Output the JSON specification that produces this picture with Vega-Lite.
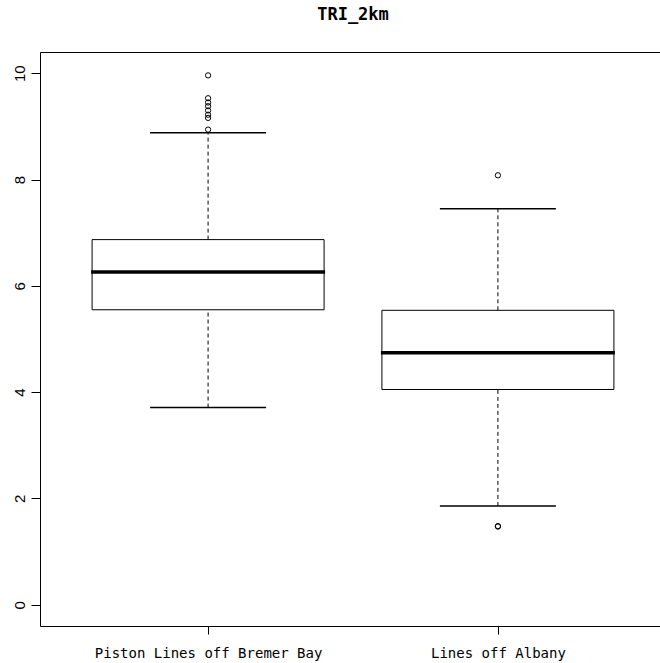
{
  "$schema": "https://vega.github.io/schema/vega-lite/v6.json",
  "autosize": {"type": "none"},
  "padding": {"left": 40, "top": 52, "right": 0, "bottom": 37},
  "width": 626,
  "height": 574,
  "background": "white",
  "title": {
    "text": "TRI_2km",
    "font": "DejaVu Sans Mono",
    "fontSize": 17,
    "fontWeight": "bold",
    "color": "black",
    "anchor": "middle",
    "baseline": "alphabetic",
    "offset": 15
  },
  "config": {
    "view": {"stroke": "black", "strokeWidth": 1},
    "axis": {"grid": false, "domain": false, "tickColor": "black", "labelColor": "black", "titleColor": "black"}
  },
  "datasets": {
    "boxes": [
      {"site": "Piston Lines off Bremer Bay", "lower": 3.71, "q1": 5.55, "median": 6.26, "q3": 6.87, "upper": 8.88},
      {"site": "Lines off Albany", "lower": 1.86, "q1": 4.05, "median": 4.74, "q3": 5.54, "upper": 7.45}
    ],
    "outliers": [
      {"site": "Piston Lines off Bremer Bay", "value": 9.96},
      {"site": "Piston Lines off Bremer Bay", "value": 9.53},
      {"site": "Piston Lines off Bremer Bay", "value": 9.45},
      {"site": "Piston Lines off Bremer Bay", "value": 9.38},
      {"site": "Piston Lines off Bremer Bay", "value": 9.30},
      {"site": "Piston Lines off Bremer Bay", "value": 9.22},
      {"site": "Piston Lines off Bremer Bay", "value": 9.16},
      {"site": "Piston Lines off Bremer Bay", "value": 8.94},
      {"site": "Lines off Albany", "value": 8.08},
      {"site": "Lines off Albany", "value": 1.48},
      {"site": "Lines off Albany", "value": 1.47}
    ]
  },
  "encoding": {
    "x": {
      "field": "site",
      "type": "nominal",
      "sort": ["Piston Lines off Bremer Bay", "Lines off Albany"],
      "scale": {"type": "point", "padding": 0.58},
      "axis": {
        "title": null,
        "labelAngle": 0,
        "labelFont": "DejaVu Sans Mono",
        "labelFontSize": 14,
        "labelLimit": 0,
        "tickSize": 8,
        "labelPadding": 12,
        "labelBaseline": "top"
      }
    }
  },
  "layer": [
    {
      "data": {"name": "boxes"},
      "mark": {"type": "rule", "color": "black", "strokeWidth": 1, "strokeDash": [4, 3]},
      "encoding": {
        "y": {
          "field": "q3",
          "type": "quantitative",
          "scale": {"domain": [-0.4, 10.4], "nice": false, "zero": false},
          "axis": {
            "title": null,
            "values": [0, 2, 4, 6, 8, 10],
            "labelAngle": -90,
            "labelFont": "Liberation Sans",
            "labelFontSize": 15,
            "tickSize": 9,
            "labelPadding": 4
          }
        },
        "y2": {"field": "upper"}
      }
    },
    {
      "data": {"name": "boxes"},
      "mark": {"type": "rule", "color": "black", "strokeWidth": 1, "strokeDash": [4, 3]},
      "encoding": {
        "y": {"field": "lower", "type": "quantitative"},
        "y2": {"field": "q1"}
      }
    },
    {
      "data": {"name": "boxes"},
      "mark": {"type": "bar", "size": 232, "fill": "white", "stroke": "black", "strokeWidth": 1},
      "encoding": {
        "y": {"field": "q1", "type": "quantitative"},
        "y2": {"field": "q3"}
      }
    },
    {
      "data": {"name": "boxes"},
      "mark": {"type": "tick", "orient": "horizontal", "size": 234, "thickness": 3.5, "color": "black", "opacity": 1},
      "encoding": {
        "y": {"field": "median", "type": "quantitative"}
      }
    },
    {
      "data": {"name": "boxes"},
      "mark": {"type": "tick", "orient": "horizontal", "size": 116, "thickness": 1.5, "color": "black", "opacity": 1},
      "encoding": {
        "y": {"field": "upper", "type": "quantitative"}
      }
    },
    {
      "data": {"name": "boxes"},
      "mark": {"type": "tick", "orient": "horizontal", "size": 116, "thickness": 1.5, "color": "black", "opacity": 1},
      "encoding": {
        "y": {"field": "lower", "type": "quantitative"}
      }
    },
    {
      "data": {"name": "outliers"},
      "mark": {"type": "point", "shape": "circle", "filled": false, "size": 28, "stroke": "black", "strokeWidth": 1, "opacity": 1},
      "encoding": {
        "y": {"field": "value", "type": "quantitative"}
      }
    }
  ]
}
